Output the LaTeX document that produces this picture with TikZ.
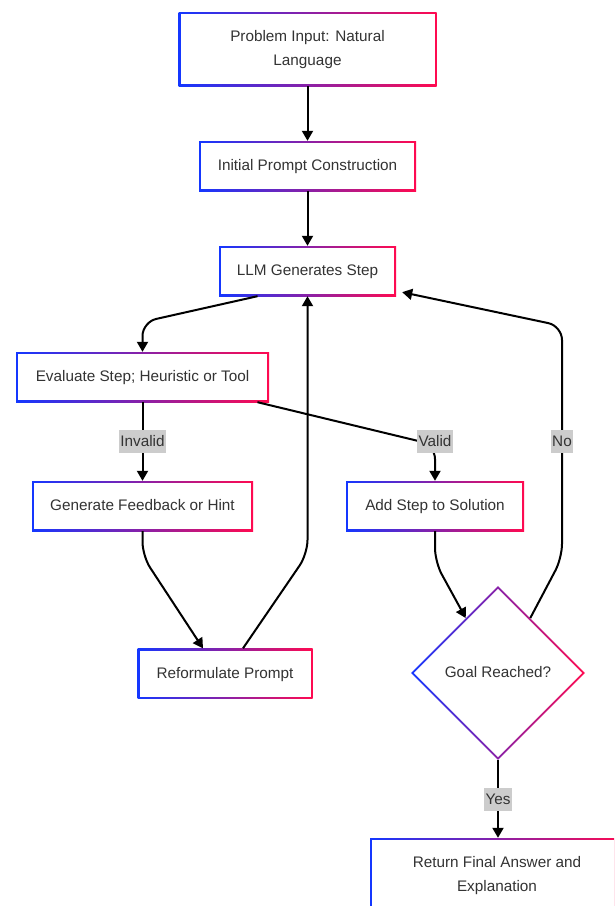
\documentclass[tikz,border=0pt]{standalone}
\usepackage{fontspec}
\setmainfont{Liberation Sans}
\usetikzlibrary{arrows.meta,calc,shapes.geometric}
\definecolor{gblue}{RGB}{20,55,255}
\definecolor{gred}{RGB}{255,10,80}
\definecolor{txt}{RGB}{51,51,51}
\definecolor{lblbg}{RGB}{204,204,204}
\newcommand{\mlines}[1]{\begin{tabular}{@{}c@{}}#1\end{tabular}}
\tikzset{
  gbox/.style={rectangle, inner sep=0pt, left color=gblue, right color=gred,
    text=txt, font=\fontsize{15.3}{24}\selectfont,
    path picture={\fill[white] ($(path picture bounding box.south west)+(2pt,2pt)$) rectangle ($(path picture bounding box.north east)+(-2pt,-2pt)$);}},
  gdia/.style={diamond, aspect=1, inner sep=0pt, left color=gblue, right color=gred,
    text=txt, font=\fontsize{15.3}{24}\selectfont,
    path picture={\fill[white] ($(path picture bounding box.north)+(0,-2.8pt)$) -- ($(path picture bounding box.east)+(-2.8pt,0)$) -- ($(path picture bounding box.south)+(0,2.8pt)$) -- ($(path picture bounding box.west)+(2.8pt,0)$) -- cycle;}},
  conn/.style={draw=black, line width=2pt, rounded corners=14pt, -{Triangle[length=10pt,width=11pt]}},
  lbl/.style={fill=lblbg, text=txt, font=\fontsize{15.3}{16}\selectfont, inner xsep=1.2pt, inner ysep=0pt, minimum height=23pt, rounded corners=0pt}
}
\begin{document}
\begin{tikzpicture}[x=1pt,y=-1pt]
\useasboundingbox (0,0) rectangle (614,906);
\clip (0,0) rectangle (614,906);

\node[gbox, minimum width=258pt, minimum height=74pt] (n1) at (307.5,49) {\mlines{Problem Input: Natural\\Language}};
\node[gbox, minimum width=217pt, minimum height=50pt] (n2) at (307.5,166) {\mlines{Initial Prompt Construction}};
\node[gbox, minimum width=177pt, minimum height=50pt] (n3) at (307.5,271) {\mlines{LLM Generates Step}};
\node[gbox, minimum width=253pt, minimum height=50pt] (n4) at (142.5,377) {\mlines{Evaluate Step; Heuristic or Tool}};
\node[gbox, minimum width=221pt, minimum height=50pt] (n5) at (142.5,506) {\mlines{Generate Feedback or Hint}};
\node[gbox, minimum width=178pt, minimum height=50pt] (n6) at (435,506) {\mlines{Add Step to Solution}};
\node[gbox, minimum width=175pt, minimum height=50pt] (n7) at (225,673.5) {\mlines{Reformulate Prompt}};
\node[gdia, minimum width=174pt, minimum height=174pt] (dia) at (498,673) {\mlines{Goal Reached?}};
\node[gbox, minimum width=254pt, minimum height=74pt] (n8) at (497,875) {\mlines{Return Final Answer and\\Explanation}};

\draw[conn] (n1) -- (n2);
\draw[conn] (n2) -- (n3);
\draw[conn] ([xshift=-50pt]n3.south) -- (142.5,322) -- (n4.north);
\draw[conn] (n4) -- node[lbl] (linv) {Invalid} (n5);
\draw[conn] ([xshift=115pt]n4.south) -- (435,445) -- (n6.north);
\node[lbl] (lval) at (435,441) {Valid};
\draw[conn] (n5.south) -- (142.5,556) -- ([xshift=-22pt]n7.north);
\draw[conn] ([xshift=18pt]n7.north) -- (307.5,554) -- (n3.south);
\draw[conn] (n6.south) -- (435,562) -- ($(dia.north)!0.37!(dia.west)$);
\draw[conn] ($(dia.north)!0.37!(dia.east)$) -- (562,558) -- (562,326) -- ([xshift=6pt,yshift=4pt]n3.south east);
\node[lbl] (lno) at (562,441) {No};
\draw[conn] (dia.south) -- node[lbl] (lyes) {Yes} (dia.south |- n8.north);
\end{tikzpicture}
\end{document}
